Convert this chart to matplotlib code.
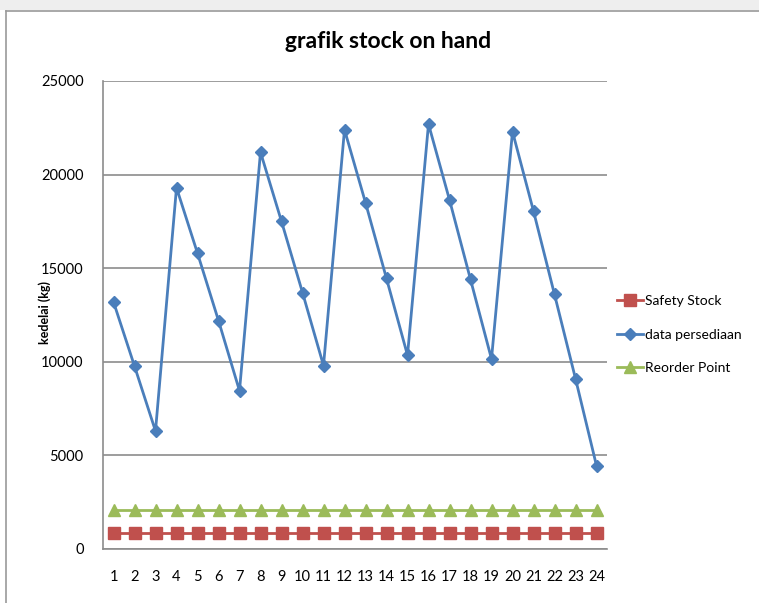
import matplotlib
matplotlib.use("Agg")
import matplotlib.pyplot as plt
from matplotlib.patches import Rectangle
from matplotlib.lines import Line2D

periods = list(range(1, 25))
data_persediaan = [13200, 9770, 6300, 19300, 15800, 12200, 8450, 21200, 17500, 13700,
                   9800, 22400, 18500, 14450, 10350, 22700, 18650, 14400, 10150, 22300,
                   18050, 13600, 9100, 4450]
safety_stock = [850] * 24
reorder_point = [2100] * 24
y_ticks = [0, 5000, 10000, 15000, 20000, 25000]

FONT = "Lato"
W, H = 759, 603
fig = plt.figure(figsize=(W / 100, H / 100), dpi=100)
fig.patch.set_facecolor("white")

# spreadsheet-like frame around chart area
fig.add_artist(Rectangle((0, (H - 10) / H), 1, 10 / H, transform=fig.transFigure,
                         facecolor="#eeeeee", edgecolor="none"))
fig.add_artist(Line2D([6 / W, 1], [(H - 11) / H, (H - 11) / H], transform=fig.transFigure,
                      color="#9a9a9a", lw=1.2))
fig.add_artist(Line2D([6 / W, 6 / W], [0, (H - 11) / H], transform=fig.transFigure,
                      color="#9a9a9a", lw=1.2))

ax = fig.add_axes([103 / W, (H - 549) / H, (607 - 103) / W, (549 - 81) / H])
ax.set_xlim(0.5, 24.5)
ax.set_ylim(0, 25000)
ax.set_yticks(y_ticks)
ax.set_yticklabels([str(v) for v in y_ticks], fontfamily=FONT, fontsize=10.5)
ax.set_xticks(periods)
ax.set_xticklabels([str(p) for p in periods], fontfamily=FONT, fontsize=10.5)
ax.tick_params(axis="both", length=0)
ax.tick_params(axis="x", pad=15)
ax.tick_params(axis="y", pad=14)
ax.grid(axis="y", color="#8c8c8c", lw=1.2)
ax.set_axisbelow(True)
for s in ["top", "right"]:
    ax.spines[s].set_visible(False)
for s in ["left", "bottom"]:
    ax.spines[s].set_color("#8c8c8c")
    ax.spines[s].set_linewidth(1.2)

ax.plot(periods, safety_stock, color="#C0504D", lw=2, marker="s", markersize=9,
        label="Safety Stock")
ax.plot(periods, data_persediaan, color="#4A7EBB", lw=2, marker="D", markersize=6.5,
        label="data persediaan")
ax.plot(periods, reorder_point, color="#9BBB59", lw=2, marker="^", markersize=9,
        label="Reorder Point")

fig.text(388 / W, (H - 42) / H, "grafik stock on hand", ha="center", va="center",
         fontfamily=FONT, fontweight="bold", fontsize=16.5)
fig.text(45 / W, (H - 312) / H, "kedelai (kg)", ha="center", va="center", rotation=90,
         fontfamily=FONT, fontweight="bold", fontsize=9)

leg = fig.legend(loc="upper left", bbox_to_anchor=(617 / W, (H - 295) / H),
                 frameon=False, prop={"family": FONT, "size": 10},
                 handlelength=1.9, handletextpad=0.1, labelspacing=1.55,
                 borderaxespad=0, borderpad=0)

fig.savefig("out.png", dpi=100)
